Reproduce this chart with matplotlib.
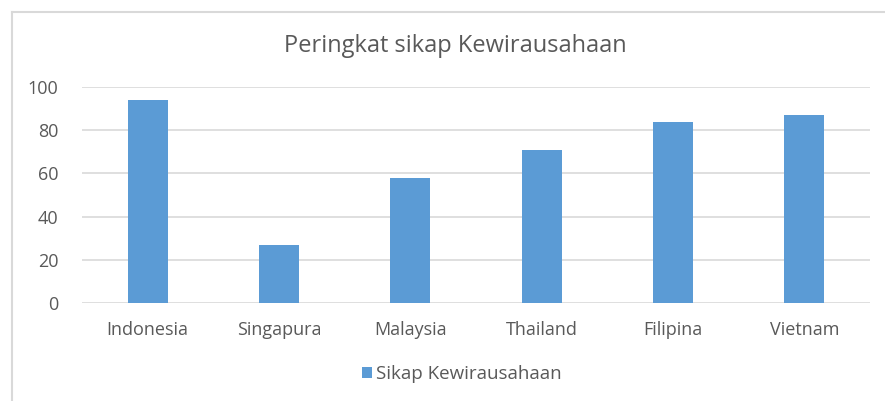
import matplotlib.pyplot as plt
from matplotlib.lines import Line2D

countries = ["Indonesia", "Singapura", "Malaysia", "Thailand", "Filipina", "Vietnam"]
scores = [94, 27, 58, 71, 84, 87]
y_ticks = [0, 20, 40, 60, 80, 100]
series_name = "Sikap Kewirausahaan"
title = "Peringkat sikap Kewirausahaan"

W, H = 885, 401
plt.rcParams['font.family'] = ['Open Sans', 'DejaVu Sans']
text_color = "#595959"
bar_color = "#5B9BD5"
grid_color = "#D9D9D9"

fig = plt.figure(figsize=(W / 100, H / 100), dpi=100)
ax = fig.add_axes([82 / W, 1 - 303 / H, (870 - 82) / W, (303 - 87) / H])

x = list(range(len(countries)))
ax.bar(x, scores, width=0.305, color=bar_color, zorder=3, label=series_name)

ax.set_xlim(-0.5, len(countries) - 0.5)
ax.set_ylim(0, 100)
ax.set_yticks(y_ticks)
ax.set_xticks(x)
ax.set_xticklabels(countries)
ax.yaxis.grid(True, color=grid_color, linewidth=1.2, zorder=0)
for s in ax.spines.values():
    s.set_visible(False)
ax.tick_params(length=0, labelsize=13, colors=text_color)
ax.tick_params(axis='x', pad=13)
ax.tick_params(axis='y', pad=17)

fig.text(455 / W, 1 - 46 / H, title, ha='center', va='center', fontsize=17, color=text_color)

leg = fig.legend(loc='center', bbox_to_anchor=(462 / W, 1 - 374 / H), frameon=False,
                 handlelength=0.5, handleheight=0.5, handletextpad=0.25, fontsize=13.5)
for t in leg.get_texts():
    t.set_color(text_color)

# chart frame (only top and left edges visible in the crop)
fig.add_artist(Line2D([11.5 / W, 11.5 / W], [0, 1 - 11.5 / H], color="#D9D9D9", linewidth=1.5))
fig.add_artist(Line2D([11.5 / W, 1], [1 - 11.5 / H, 1 - 11.5 / H], color="#D9D9D9", linewidth=1.5))

fig.savefig("out.png", dpi=100)
